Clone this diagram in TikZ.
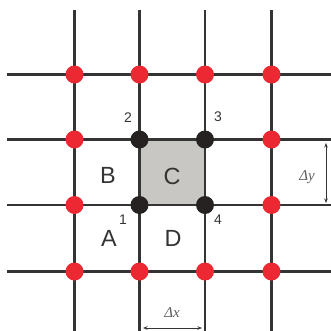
\documentclass[tikz,border=0pt]{standalone}
\usepackage{fontspec}
\setmainfont{Liberation Sans}
\newfontfamily\seriftimes{Liberation Serif}
\usetikzlibrary{arrows.meta}
\definecolor{rejilla}{RGB}{52,52,52}
\definecolor{nodorojo}{RGB}{236,40,50}
\definecolor{nodonegro}{RGB}{38,34,33}
\definecolor{celdagris}{RGB}{201,199,195}
\definecolor{gristexto}{RGB}{95,95,95}

\begin{document}
\begin{tikzpicture}[x=1bp, y=-1bp,
  linea/.style={draw=rejilla, line width=2.2bp},
  rojo/.style={circle, fill=nodorojo, minimum size=18bp, inner sep=0pt},
  negro/.style={circle, fill=nodonegro, minimum size=18bp, inner sep=0pt},
  letra/.style={font=\fontsize{23.5}{23.5}\selectfont, text=rejilla},
  numero/.style={font=\fontsize{14}{14}\selectfont, text=rejilla},
  cota/.style={draw=rejilla, line width=0.8bp,
               {Stealth[length=4.5bp,width=3.5bp]}-{Stealth[length=4.5bp,width=3.5bp]}},
  delta/.style={font=\seriftimes\itshape\fontsize{15}{15}\selectfont, text=gristexto},
]
\useasboundingbox (0,0) rectangle (331,331);
% ---- celda C ---------------------------------------------------------------
\fill[celdagris] (139.5,139.5) rectangle (205,206);
% ---- rejilla ---------------------------------------------------------------
\foreach \p [count=\i] in {74.5,139.5,205,271.5} {
  \coordinate (arr\i) at (\p,10);
  \coordinate (aba\i) at (\p,331);
  \coordinate (izq\i) at (7,\p);
  \coordinate (der\i) at (331,\p);
  \draw[linea] (arr\i) -- (aba\i);
  \draw[linea] (izq\i) -- (der\i);
}
% ---- nodos -----------------------------------------------------------------
\foreach \x [count=\i] in {74.5,139.5,205,271.5} {
  \foreach \y [count=\j] in {74.5,139.5,205,271.5} {
    \pgfmathtruncatemacro\interior{and(or(\i==2,\i==3),or(\j==2,\j==3))}
    \ifnum\interior=1 \def\estilo{negro}\else\def\estilo{rojo}\fi
    \node[\estilo] (n\i\j) at (\x,\y) {};
  }
}
% ---- etiquetas ---------------------------------------------------------------
\node[numero] (num1) at (123,220) {1};
\node[numero] (num2) at (128,118) {2};
\node[numero] (num3) at (218,117) {3};
\node[numero] (num4) at (218,220) {4};
\node[letra] (celB) at (108,175) {B};
\node[letra] (celC) at (172,176) {C};
\node[letra] (celA) at (109,238) {A};
\node[letra] (celD) at (173,238) {D};
% ---- cotas -------------------------------------------------------------------
\coordinate (dy1) at (326,143);
\coordinate (dy2) at (326,203);
\draw[cota] (dy1) -- (dy2);
\node[delta] (dely) at (307,177) {Δy};
\coordinate (dx1) at (143,328);
\coordinate (dx2) at (202,328);
\draw[cota] (dx1) -- (dx2);
\node[delta] (delx) at (172,313) {Δx};
\end{tikzpicture}
\end{document}
